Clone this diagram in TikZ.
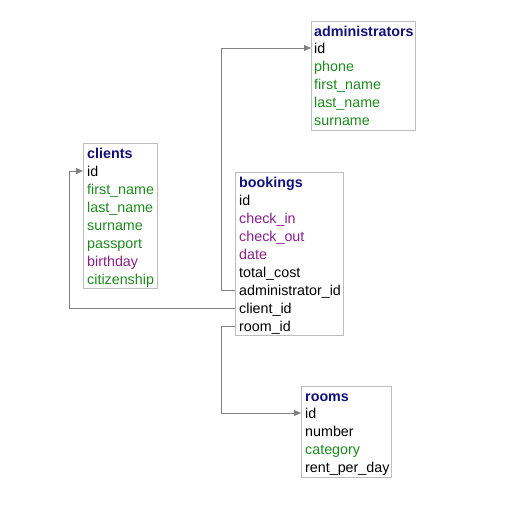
\documentclass[tikz,border=0pt]{standalone}
\usepackage{fontspec}
\setmainfont{Liberation Sans}
\usetikzlibrary{arrows.meta}
\definecolor{boxgray}{HTML}{BDBDBD}
\definecolor{linkgray}{HTML}{808080}
\definecolor{ttlblue}{HTML}{10107A}
\definecolor{fgreen}{HTML}{1E8A1E}
\definecolor{fpurple}{HTML}{8A1E8A}
\tikzset{
  tbl/.style={draw=boxgray, line width=1pt},
  ttl/.style={anchor=west, inner sep=0pt, text height=10pt, text depth=0pt,
    font=\fontsize{14.3}{18}\selectfont\bfseries, text=ttlblue},
  fld/.style={anchor=west, inner sep=0pt, text height=10pt, text depth=0pt,
    font=\fontsize{14.3}{18}\selectfont},
  lnk/.style={draw=linkgray, line width=1pt, -{Triangle[length=7pt,width=6pt]}}
}
\begin{document}
\begin{tikzpicture}[x=1pt,y=-1pt]
\useasboundingbox (0,0) rectangle (519,514);
% administrators
\draw[tbl] (311,21) rectangle (415,130);
\node[ttl] (adm) at (314,31) {administrators};
\foreach \i/\v/\c in {0/id/black, 1/phone/fgreen, 2/first\_name/fgreen,
    3/last\_name/fgreen, 4/surname/fgreen}
  \node[fld,text=\c] (a\i) at (314,{48+18*\i}) {\v};
% clients
\draw[tbl] (83,143) rectangle (157,288);
\node[ttl] (cli) at (87,153) {clients};
\foreach \i/\v/\c in {0/id/black, 1/first\_name/fgreen, 2/last\_name/fgreen,
    3/surname/fgreen, 4/passport/fgreen, 5/birthday/fpurple, 6/citizenship/fgreen}
  \node[fld,text=\c] (c\i) at (87,{171+18*\i}) {\v};
% bookings
\draw[tbl] (235,172) rectangle (343,335);
\node[ttl] (bkg) at (239,182) {bookings};
\foreach \i/\v/\c in {0/id/black, 1/check\_in/fpurple, 2/check\_out/fpurple,
    3/date/fpurple, 4/total\_cost/black, 5/administrator\_id/black,
    6/client\_id/black, 7/room\_id/black}
  \node[fld,text=\c] (b\i) at (239,{200+18*\i}) {\v};
% rooms
\draw[tbl] (301,386) rectangle (391,477);
\node[ttl] (rms) at (305,396) {rooms};
\foreach \i/\v/\c in {0/id/black, 1/number/black, 2/category/fgreen,
    3/rent\_per\_day/black}
  \node[fld,text=\c] (r\i) at (305,{413+18*\i}) {\v};
% links
\draw[lnk] ([xshift=-4pt]b5.west) -- ++(-14,0) |- ([xshift=-3pt]a0.west);
\draw[lnk] ([xshift=-4pt]b6.west) -- (69,308) |- ([xshift=-4pt]c0.west);
\draw[lnk] ([xshift=-4pt]b7.west) -- ++(-14,0) |- ([xshift=-4pt]r0.west);
\end{tikzpicture}
\end{document}
